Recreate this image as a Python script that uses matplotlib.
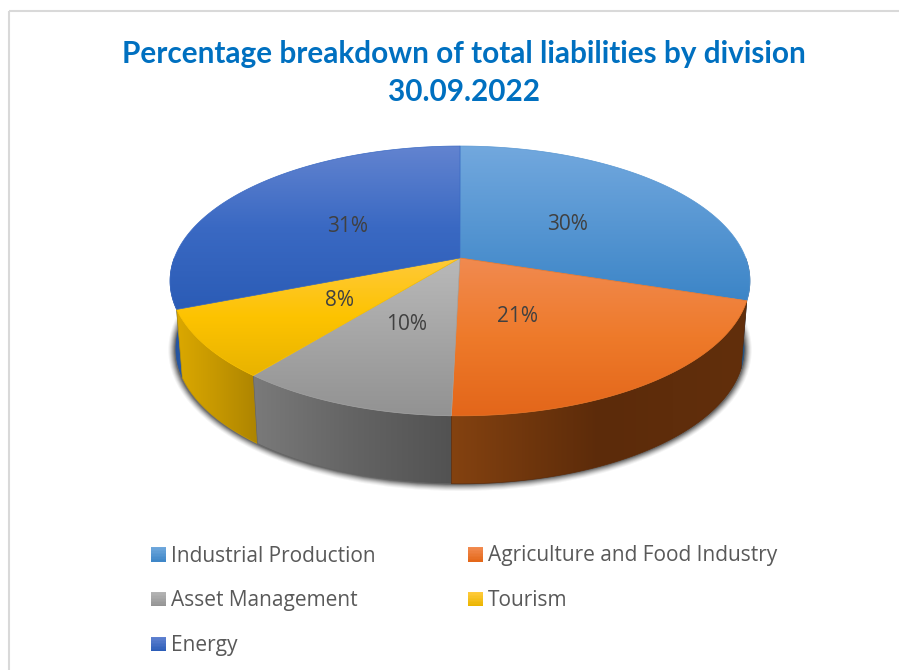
import numpy as np
import matplotlib
matplotlib.use("Agg")
import matplotlib.pyplot as plt
from matplotlib.colors import LinearSegmentedColormap
from matplotlib.legend_handler import HandlerBase
from matplotlib.patches import Polygon, Rectangle, Ellipse, Patch

# ---------- data ----------
categories = ["Industrial Production", "Agriculture and Food Industry",
              "Asset Management", "Tourism", "Energy"]
shares = [30.0, 20.4, 10.4, 8.2, 31.0]   # slice sizes
pct_labels = ["30%", "21%", "10%", "8%", "31%"]
title_text = "Percentage breakdown of total liabilities by division\n30.09.2022"

# ---------- styles ----------
top_stops = [("#72a8de", "#3c85c7"), ("#f18a50", "#ee7a2a", "#e3661a"),
             ("#b9b9b9", "#929292"),
             ("#ffc93a", "#fdc300", "#e8b300"), ("#6384d0", "#3a69c3", "#2b5cb6")]
wall_stops = [("#2d5f8f", "#24507c", "#24507c"),
              ("#844210", "#5c2b0a", "#622f0c"),
              ("#7a7a7a", "#646464", "#525252"),
              ("#dba800", "#c59700", "#ad8400"),
              ("#1f4a94", "#24549f", "#2a5aa8")]
swatch_stops = [("#6fa8dc", "#3f87c8"), ("#f28b50", "#e4681a"), ("#b4b4b4", "#949494"),
                ("#ffcb3c", "#ebb500"), ("#5f81d0", "#2c5db8")]
legend_colors = ["#5b9bd5", "#ed7d31", "#a5a5a5", "#ffc000", "#4472c4"]
label_color = "#404040"
label_xy = [(568, 225), (518, 317), (407, 325), (340, 301), (348, 227)]

# pie geometry (pixels)
CX, APEX_Y = 460, 258
A, B, K = 285.7, 131.0, 0.170
DEPTH, SHRINK = 68, 0.98
ELL_CY = 281


def top_point(theta, r=1.0):
    s, c = np.sin(theta), np.cos(theta)
    d = 1 + K * r * c
    return CX + A * r * s / d, APEX_Y - B * r * c / d


def low_point(theta):
    x, y = top_point(theta)
    return CX + (x - CX) * SHRINK, y + DEPTH


def gradient_fill(ax, verts, stops, horizontal=False, zorder=2):
    verts = np.asarray(verts)
    x0, y0 = verts.min(axis=0)
    x1, y1 = verts.max(axis=0)
    cmap = LinearSegmentedColormap.from_list("g", list(stops))
    g = np.linspace(0, 1, 256)
    g = g[None, :] if horizontal else g[:, None]
    im = ax.imshow(g, cmap=cmap, extent=(x0, x1, y1, y0), origin="upper",
                   aspect="auto", interpolation="bilinear", zorder=zorder)
    mid = cmap(0.5)
    patch = Polygon(verts, closed=True, facecolor="none", edgecolor=mid,
                    linewidth=0.5, zorder=zorder + 0.01)
    ax.add_patch(patch)
    im.set_clip_path(patch)


class GradientSwatch(HandlerBase):
    """Legend key drawn as a vertical colour ramp."""

    def __init__(self, stops):
        super().__init__()
        self.stops = stops

    def create_artists(self, legend, orig_handle, xdescent, ydescent, width, height,
                       fontsize, trans):
        cmap = LinearSegmentedColormap.from_list("s", list(self.stops))
        n = 10
        size = min(width, height)
        y0 = -ydescent + (height - size) / 2
        out = []
        for j in range(n):
            out.append(Rectangle((-xdescent, y0 + size * j / n), size, size / n * 1.05,
                                 facecolor=cmap(1 - j / (n - 1)), edgecolor="none",
                                 transform=trans))
        return out


fig = plt.figure(figsize=(8.99, 6.70), dpi=100)
ax = fig.add_axes([0, 0, 1, 1])

# cumulative boundaries (clockwise from 12 o'clock)
edges = np.radians(np.concatenate([[0], np.cumsum(shares)]) / sum(shares) * 360)

# soft shadow under the base
for grow, alpha in zip(np.linspace(6, 0, 7), [0.05, 0.07, 0.10, 0.13, 0.17, 0.22, 0.32]):
    ax.add_patch(Ellipse((CX, ELL_CY + DEPTH + 1), 2 * (290 * SHRINK + grow) + 3,
                         2 * (135 + grow), facecolor="#303030", edgecolor="none",
                         alpha=alpha, zorder=1))

# side walls: only the front half (90..270 deg) is visible
wall_order = [0, 4, 3, 2, 1]
for rank, i in enumerate(wall_order):
    a0 = max(edges[i], np.pi / 2)
    a1 = min(edges[i + 1], 1.5 * np.pi)
    if a1 <= a0:
        continue
    th = np.linspace(a0, a1, 120)
    up = [top_point(t) for t in th]
    lo = [low_point(t) for t in th[::-1]]
    gradient_fill(ax, up + lo, wall_stops[i], horizontal=True, zorder=2 + rank * 0.1)

# top surface
for i in range(len(shares)):
    th = np.linspace(edges[i], edges[i + 1], 160)
    verts = [(CX, APEX_Y)] + [top_point(t) for t in th]
    gradient_fill(ax, verts, top_stops[i], zorder=3 + i * 0.1)

# percentage labels
for txt, (x, y) in zip(pct_labels, label_xy):
    ax.text(x, y, txt, ha="center", va="center",
            fontsize=15, color=label_color, family="Open Sans", zorder=6)

# frame
ax.add_patch(Rectangle((8.5, 11), 1200, 1200, fill=False, edgecolor="#d9d9d9",
                       linewidth=1.5, zorder=0.5))

# title
ax.text(464, 73, title_text, ha="center", va="center", fontsize=21.4,
        fontweight="bold", family="Lato", color="#0070c0", linespacing=1.46, zorder=6)

ax.set_xlim(0, 899)
ax.set_ylim(670, 0)
ax.axis("off")

# legend: matplotlib fills by column
order = [0, 2, 4, 1, 3]
handles = [Patch(facecolor=legend_colors[i], edgecolor="none") for i in order]
labels = [categories[i] for i in order]
fig.legend(handles, labels, ncol=2, frameon=False, loc="upper left",
           bbox_to_anchor=(151 / 899, 1 - 545.5 / 670), borderaxespad=0, borderpad=0,
           prop={"family": "Open Sans", "size": 15},
           labelcolor="#595959", handlelength=0.7, handleheight=0.7,
           handletextpad=0.27, labelspacing=1.15, columnspacing=4.42,
           handler_map={h: GradientSwatch(swatch_stops[i]) for h, i in zip(handles, order)})

fig.savefig("out.png", dpi=100)
